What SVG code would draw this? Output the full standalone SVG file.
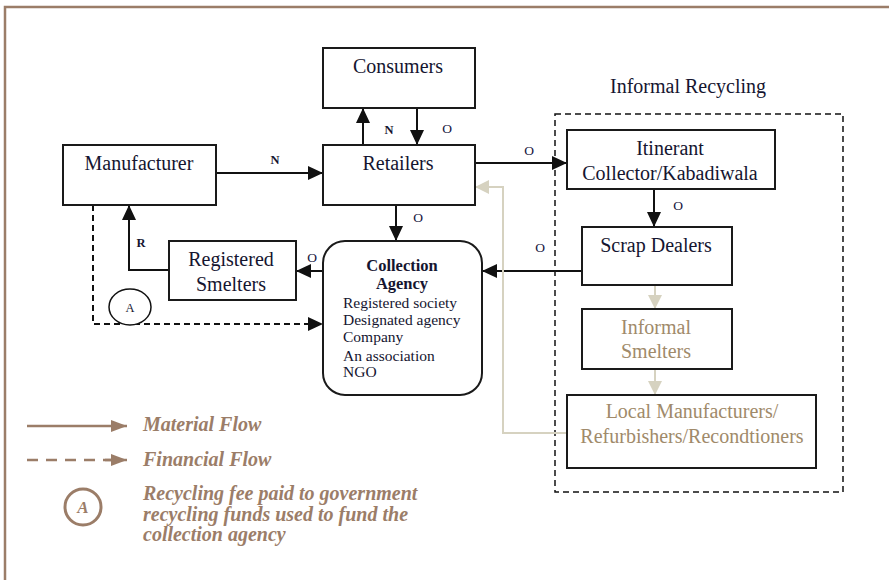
<svg xmlns="http://www.w3.org/2000/svg" width="889" height="580" viewBox="0 0 889 580">
<style>
.box{fill:#fff;stroke:#1a1a1a;stroke-width:2}
.t{font-family:"Liberation Serif","Times New Roman",serif;font-size:20px;fill:#151530;text-anchor:middle}
.tg{font-family:"Liberation Serif","Times New Roman",serif;font-size:20px;fill:#a08a6a;text-anchor:middle}
.lb{font-family:"Liberation Serif","Times New Roman",serif;font-size:12.5px;font-weight:bold;fill:#151530;text-anchor:middle}
.lo{font-family:"Liberation Serif","Times New Roman",serif;font-size:13.5px;fill:#151540;text-anchor:middle}
.ca{font-family:"Liberation Serif","Times New Roman",serif;font-size:15.5px;fill:#151530}
.cab{font-family:"Liberation Serif","Times New Roman",serif;font-size:16.5px;font-weight:bold;fill:#151530;text-anchor:middle}
.blk{fill:none;stroke:#111;stroke-width:2}
.gry{fill:none;stroke:#d6d2c0;stroke-width:2}
.leg{font-family:"Liberation Serif","Times New Roman",serif;font-size:20px;font-weight:bold;font-style:italic;fill:#9b7d68}
</style>
<defs>
<marker id="ab" markerUnits="userSpaceOnUse" markerWidth="16" markerHeight="14" refX="15" refY="7" orient="auto"><path d="M0,0 L15,7 L0,14 z" fill="#111"/></marker>
<marker id="ag" markerUnits="userSpaceOnUse" markerWidth="14" markerHeight="14" refX="14" refY="7" orient="auto"><path d="M0,0 L14,7 L0,14 z" fill="#d6d2c0"/></marker>
<marker id="al" markerUnits="userSpaceOnUse" markerWidth="16" markerHeight="12" refX="16" refY="6" orient="auto"><path d="M0,0 L16,6 L0,12 z" fill="#9b7d68"/></marker>
</defs>
<g id="frame" fill="none" stroke="#9b7d68" stroke-width="2.5">
<path d="M5,580 L5,7 L889,7"/>
</g>
<g id="informal-region">
<rect x="555" y="114" width="288" height="378" fill="none" stroke="#111" stroke-width="1.5" stroke-dasharray="6,4"/>
<text class="t" x="688" y="93">Informal Recycling</text>
</g>
<g id="connectors">
<path class="blk" d="M216,173 L323,173" marker-end="url(#ab)"/>
<path class="blk" d="M363,145 L363,108" marker-end="url(#ab)"/>
<path class="blk" d="M417,108 L417,145" marker-end="url(#ab)"/>
<path class="blk" d="M475,163 L567,163" marker-end="url(#ab)"/>
<path class="blk" d="M654,189 L654,227" marker-end="url(#ab)"/>
<path class="blk" d="M582,271 L482,271" marker-end="url(#ab)"/>
<path class="blk" d="M396,205 L396,241" marker-end="url(#ab)"/>
<path class="blk" d="M323,271 L296,271" marker-end="url(#ab)"/>
<path class="blk" d="M169,270 L129,270 L129,205" marker-end="url(#ab)"/>
<path class="blk" d="M93,205 L93,324 L323,324" stroke-dasharray="6,4" marker-end="url(#ab)"/>
<path class="gry" d="M655,285 L655,309" marker-end="url(#ag)"/>
<path class="gry" d="M655,369 L655,395" marker-end="url(#ag)"/>
<path class="gry" d="M567,433 L503,433 L503,187 L475,187" marker-end="url(#ag)"/>
<text class="lb" x="275" y="164">N</text>
<text class="lb" x="389" y="134">N</text>
<text class="lo" x="447" y="133">O</text>
<text class="lo" x="529" y="155">O</text>
<text class="lo" x="678" y="210">O</text>
<text class="lo" x="540" y="252">O</text>
<text class="lo" x="418" y="222">O</text>
<text class="lo" x="312" y="262">O</text>
<text class="lb" x="141" y="247">R</text>
</g>
<g id="consumers"><rect class="box" x="323" y="48" width="152" height="60"/><text class="t" x="398" y="73">Consumers</text></g>
<g id="manufacturer"><rect class="box" x="63" y="145" width="153" height="60"/><text class="t" x="139" y="170">Manufacturer</text></g>
<g id="retailers"><rect class="box" x="323" y="145" width="152" height="60"/><text class="t" x="398" y="170">Retailers</text></g>
<g id="itinerant"><rect class="box" x="567" y="130" width="208" height="59"/><text class="t" x="670" y="155">Itinerant</text><text class="t" x="670" y="180">Collector/Kabadiwala</text></g>
<g id="scrap-dealers"><rect class="box" x="582" y="227" width="150" height="58"/><text class="t" x="656" y="252">Scrap Dealers</text></g>
<g id="informal-smelters"><rect class="box" x="582" y="309" width="150" height="60"/><text class="tg" x="656" y="334">Informal</text><text class="tg" x="656" y="358">Smelters</text></g>
<g id="local-manufacturers"><rect class="box" x="567" y="395" width="249" height="73"/><text class="tg" x="692" y="418">Local Manufacturers/</text><text class="tg" x="692" y="443">Refurbishers/Recondtioners</text></g>
<g id="registered-smelters"><rect class="box" x="169" y="241" width="127" height="59"/><text class="t" x="231" y="266">Registered</text><text class="t" x="231" y="291">Smelters</text></g>
<g id="collection-agency"><rect class="box" x="323" y="241" width="159" height="154" rx="22"/>
<text class="cab" x="402" y="271">Collection</text><text class="cab" x="402" y="289">Agency</text>
<text class="ca" x="343" y="308">Registered society</text>
<text class="ca" x="343" y="325">Designated  agency</text>
<text class="ca" x="343" y="342">Company</text>
<text class="ca" x="343" y="361">An association</text>
<text class="ca" x="343" y="377">NGO</text>
</g>
<g id="marker-a"><ellipse cx="130" cy="307" rx="21" ry="18" fill="#fff" stroke="#111" stroke-width="1.5"/><text class="lb" x="130" y="312" style="font-weight:normal">A</text></g>
<g id="legend">
<path d="M27,426 L127,426" stroke="#9b7d68" stroke-width="2.5" marker-end="url(#al)"/>
<text class="leg" x="143" y="431">Material Flow</text>
<path d="M27,460 L112,460" stroke="#9b7d68" stroke-width="2.5" stroke-dasharray="11,8"/>
<path d="M105,460 L127,460" stroke="#9b7d68" stroke-width="2.5" marker-end="url(#al)"/>
<text class="leg" x="143" y="466">Financial Flow</text>
<circle cx="83" cy="507" r="18" fill="#fff" stroke="#9b7d68" stroke-width="3"/>
<text class="leg" x="83" y="513" text-anchor="middle" style="font-size:17px">A</text>
<text class="leg" x="143" y="500">Recycling fee paid to government</text>
<text class="leg" x="143" y="521">recycling funds used to fund the</text>
<text class="leg" x="143" y="541">collection agency</text>
</g>
</svg>
